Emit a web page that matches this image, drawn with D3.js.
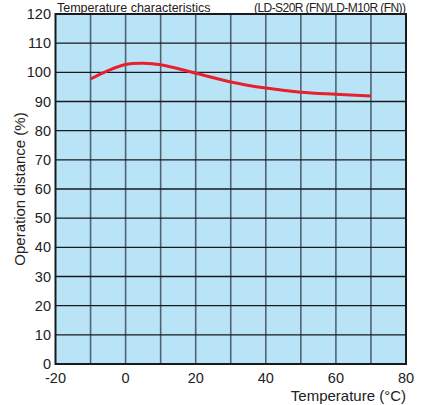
<!DOCTYPE html>
<html><head><meta charset="utf-8">
<script src="https://cdn.jsdelivr.net/npm/d3@7"></script>
<style>body{margin:0;background:#fff}svg{display:block;font-family:"Liberation Sans",Arial,sans-serif}</style>
</head><body><svg id="c" width="423" height="405"></svg>
<script>
const temps = [-10, -5, 0, 5, 10, 20, 30, 40, 50, 60, 70];
const distance = [97.7, 100.6, 102.7, 103.1, 102.6, 99.7, 96.7, 94.6, 93.2, 92.5, 91.9];
const xTicks = [-20, 0, 20, 40, 60, 80];
const yTicks = [0, 10, 20, 30, 40, 50, 60, 70, 80, 90, 100, 110, 120];
const xGrid = [-10, 0, 10, 20, 30, 40, 50, 60, 70];

const svg = d3.select("#c");
const L = 55.5, R = 406, T = 14, B = 364;
const x = d3.scaleLinear().domain([-20, 80]).range([L, R]);
const y = d3.scaleLinear().domain([0, 120]).range([B, T]);

svg.append("rect").attr("x", L).attr("y", T).attr("width", R - L).attr("height", B - T).attr("fill", "#b9e4f8");

svg.append("g").selectAll("line").data(xGrid).join("line")
  .attr("x1", d => x(d)).attr("x2", d => x(d)).attr("y1", T).attr("y2", B)
  .attr("stroke", "#4f6470").attr("stroke-width", 1.6);
svg.append("g").selectAll("line").data(yTicks.slice(1, -1)).join("line")
  .attr("x1", L).attr("x2", R).attr("y1", d => y(d)).attr("y2", d => y(d))
  .attr("stroke", "#1a1a1a").attr("stroke-width", 1.3);

svg.append("rect").attr("x", L).attr("y", T).attr("width", R - L).attr("height", B - T)
  .attr("fill", "none").attr("stroke", "#1a1a1a").attr("stroke-width", 2);

const line = d3.line().x(d => x(d[0])).y(d => y(d[1])).curve(d3.curveCatmullRom.alpha(0.5));
svg.append("path").datum(temps.map((t, i) => [t, distance[i]])).attr("d", line)
  .attr("fill", "none").attr("stroke", "#e8202c").attr("stroke-width", 3);

svg.append("g").selectAll("text").data(yTicks).join("text")
  .attr("x", 51).attr("y", d => y(d) + 5).attr("text-anchor", "end")
  .attr("font-size", 14.5).attr("fill", "#222").text(d => d);

svg.append("g").selectAll("text").data(xTicks).join("text")
  .attr("x", d => x(d)).attr("y", 383).attr("text-anchor", "middle")
  .attr("font-size", 14.5).attr("fill", "#222").text(d => d);

svg.append("text").attr("x", R).attr("y", 401).attr("text-anchor", "end")
  .attr("font-size", 15).attr("fill", "#222").text("Temperature (°C)");

svg.append("text").attr("transform", `translate(25,${(T + B) / 2}) rotate(-90)`)
  .attr("text-anchor", "middle").attr("font-size", 15).attr("fill", "#222").text("Operation distance (%)");

svg.append("text").attr("x", 57).attr("y", 11.5).attr("font-size", 12.5).attr("fill", "#222")
  .text("Temperature characteristics");
svg.append("text").attr("x", 406).attr("y", 11.5).attr("text-anchor", "end").attr("font-size", 12)
  .attr("fill", "#222").attr("textLength", 152).text("(LD-S20R (FN)/LD-M10R (FN))");
</script></body></html>
